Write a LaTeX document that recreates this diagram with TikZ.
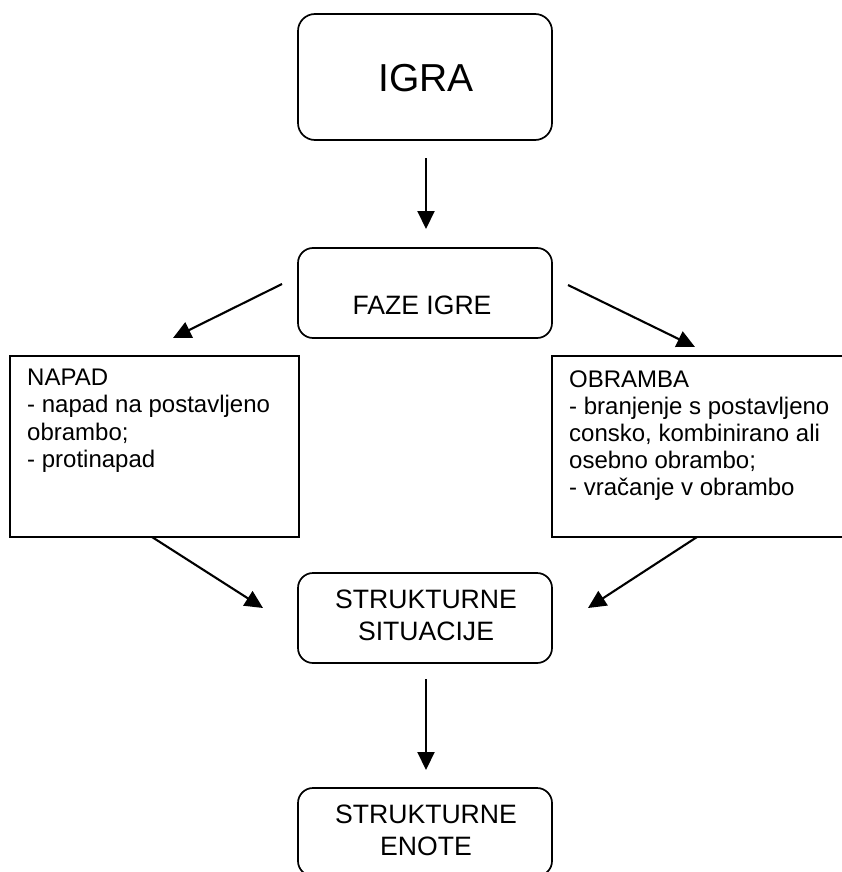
\documentclass[tikz,border=0pt]{standalone}
\usepackage{fontspec}
\setmainfont{Liberation Sans}
\usetikzlibrary{arrows.meta}
\begin{document}
\begin{tikzpicture}[x=1pt,y=-1pt,
  rbox/.style={draw, line width=1.7pt, rounded corners=15pt, inner sep=0pt},
  sbox/.style={draw, line width=1.7pt, inner sep=0pt},
  conn/.style={line width=2.1pt, -{Triangle[length=18pt,width=17pt]}},
  ctext/.style={font=\fontsize{26.6}{32}\selectfont, anchor=base, inner sep=0pt},
  ltext/.style={font=\fontsize{24}{27}\selectfont, anchor=base west, inner sep=0pt}]
\useasboundingbox (0,0) rectangle (842,872);
% boxes
\node[rbox, rounded corners=17pt, minimum width=254pt, minimum height=126pt] (igra) at (425,77) {};
\node[rbox, minimum width=254pt, minimum height=90pt] (faze) at (425,293) {};
\node[sbox, minimum width=289pt, minimum height=181pt] (napad) at (154.5,446.5) {};
\node[sbox, minimum width=293pt, minimum height=181pt] (obramba) at (698.5,446.5) {};
\node[rbox, minimum width=254pt, minimum height=90pt] (sit) at (425,618) {};
\node[rbox, minimum width=254pt, minimum height=88pt] (enote) at (425,832) {};
% texts
\node[font=\fontsize{39}{47}\selectfont, anchor=base, inner sep=0pt] (tigra) at (426,92) {IGRA};
\node[ctext] (tfaze) at (422,314) {FAZE IGRE};
\node[ctext] (tsit1) at (426,608) {STRUKTURNE};
\node[ctext] (tsit2) at (426,640) {SITUACIJE};
\node[ctext] (ten1) at (426,823) {STRUKTURNE};
\node[ctext] (ten2) at (426,855) {ENOTE};
\node[ltext] (tn1) at (27,385) {NAPAD};
\node[ltext] (tn2) at (27,412) {- napad na postavljeno};
\node[ltext] (tn3) at (27,440) {obrambo;};
\node[ltext] (tn4) at (27,467) {- protinapad};
\node[ltext] (to1) at (569,387) {OBRAMBA};
\node[ltext] (to2) at (569,414) {- branjenje s postavljeno};
\node[ltext] (to3) at (569,441) {consko, kombinirano ali};
\node[ltext] (to4) at (569,468) {osebno obrambo;};
\node[ltext] (to5) at (569,495) {- vračanje v obrambo};
% connector end points
\coordinate (a1s) at (426,158);
\coordinate (a1e) at (426,229);
\coordinate (a2s) at (282,284);
\coordinate (a2e) at (173,338);
\coordinate (a3s) at (568,285);
\coordinate (a3e) at (695,347);
\coordinate (a4s) at (152,537);
\coordinate (a4e) at (263,608);
\coordinate (a5s) at (697,537);
\coordinate (a5e) at (588,608);
\coordinate (a6s) at (426,679);
\coordinate (a6e) at (426,770);
\draw[conn] (a1s) -- (a1e);
\draw[conn] (a2s) -- (a2e);
\draw[conn] (a3s) -- (a3e);
\draw[conn] (a4s) -- (a4e);
\draw[conn] (a5s) -- (a5e);
\draw[conn] (a6s) -- (a6e);
\end{tikzpicture}
\end{document}
